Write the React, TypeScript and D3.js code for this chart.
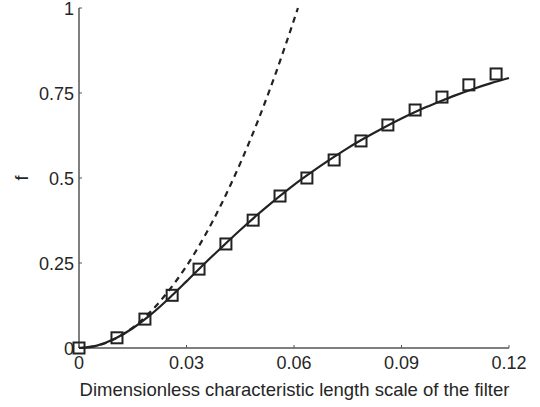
import React from "react";
import * as d3 from "d3";

const xTicks = [0, 0.03, 0.06, 0.09, 0.12];
const xTickLabels = ["0", "0.03", "0.06", "0.09", "0.12"];
const yTicks = [0, 0.25, 0.5, 0.75, 1];
const yTickLabels = ["0", "0.25", "0.5", "0.75", "1"];

const markerX = [0, 0.0106, 0.0184, 0.026, 0.0335, 0.041, 0.0486, 0.0561, 0.0636, 0.0712, 0.0787, 0.0862, 0.0938, 0.1013, 0.1088, 0.1164];
const markerY = [0, 0.03, 0.085, 0.155, 0.232, 0.306, 0.376, 0.447, 0.5, 0.553, 0.609, 0.656, 0.7, 0.738, 0.774, 0.806];

const solidX = [0, 0.005, 0.01, 0.015, 0.02, 0.025, 0.03, 0.035, 0.04, 0.045, 0.05, 0.055, 0.06, 0.065, 0.07, 0.075, 0.08, 0.085, 0.09, 0.095, 0.1, 0.105, 0.11, 0.115, 0.12];
const solidY = [0, 0.007, 0.027, 0.058, 0.098, 0.145, 0.196, 0.248, 0.298, 0.347, 0.394, 0.438, 0.48, 0.518, 0.554, 0.588, 0.619, 0.648, 0.675, 0.7, 0.722, 0.743, 0.762, 0.779, 0.794];

const dashX = [0, 0.005, 0.01, 0.015, 0.02, 0.025, 0.03, 0.035, 0.04, 0.045, 0.05, 0.055, 0.06, 0.0611];
const dashY = [0, 0.0067, 0.027, 0.06, 0.107, 0.168, 0.241, 0.328, 0.429, 0.543, 0.67, 0.811, 0.965, 1.0];

const W = 540;
const H = 407;
const left = 79;
const right = 509;
const top = 8;
const bottom = 348;

export default function App() {
  const x = d3.scaleLinear().domain([0, 0.12]).range([left, right]);
  const y = d3.scaleLinear().domain([0, 1]).range([bottom, top]);
  const line = d3
    .line<[number, number]>()
    .x((d) => x(d[0]))
    .y((d) => y(d[1]))
    .curve(d3.curveMonotoneX);
  const solid = line(solidX.map((v, i) => [v, solidY[i]]) as [number, number][]);
  const dashed = line(dashX.map((v, i) => [v, dashY[i]]) as [number, number][]);
  const axisColor = "#555";
  const textColor = "#262626";
  const font = "'Liberation Sans', Arial, sans-serif";
  const ms = 11;
  return (
    <svg
      width={W}
      height={H}
      style={{ position: "absolute", left: 0, top: 0, background: "#fff" }}
      fontFamily={font}
    >
      <rect x={0} y={0} width={W} height={H} fill="#fff" />
      <line x1={left} x2={left} y1={top} y2={bottom} stroke={axisColor} strokeWidth={1.5} />
      <line x1={left} x2={right} y1={bottom} y2={bottom} stroke={axisColor} strokeWidth={1.5} />
      {xTicks.map((t, i) => (
        <g key={"xt" + i}>
          <line x1={x(t)} x2={x(t)} y1={bottom} y2={bottom - 3} stroke={axisColor} strokeWidth={1} />
          <text x={x(t)} y={368.5} textAnchor="middle" fontSize={18} fill={textColor}>
            {xTickLabels[i]}
          </text>
        </g>
      ))}
      {yTicks.map((t, i) => (
        <g key={"yt" + i}>
          <line x1={left} x2={left + 3} y1={y(t)} y2={y(t)} stroke={axisColor} strokeWidth={1} />
          <text x={74} y={y(t) + 6.5} textAnchor="end" fontSize={18} fill={textColor}>
            {yTickLabels[i]}
          </text>
        </g>
      ))}
      <text x={(left + right) / 2 + 0.5} y={396} textAnchor="middle" fontSize={18.5} fill={textColor}>
        Dimensionless characteristic length scale of the filter
      </text>
      <text
        transform={`translate(28, ${(top + bottom) / 2}) rotate(-90)`}
        textAnchor="middle"
        fontSize={18}
        fill={textColor}
      >
        f
      </text>
      <path d={dashed || ""} fill="none" stroke="#222" strokeWidth={2.2} strokeDasharray="6,5" />
      <path d={solid || ""} fill="none" stroke="#222" strokeWidth={2.2} />
      {markerX.map((v, i) => (
        <rect
          key={"m" + i}
          x={x(v) - ms / 2}
          y={y(markerY[i]) - ms / 2}
          width={ms}
          height={ms}
          fill="none"
          stroke="#222"
          strokeWidth={2}
        />
      ))}
    </svg>
  );
}
